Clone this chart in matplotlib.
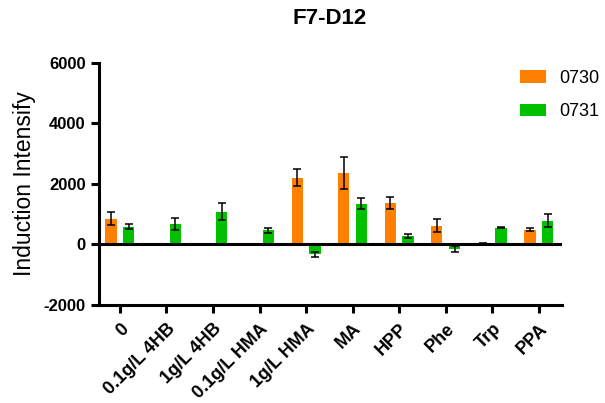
import matplotlib
matplotlib.use("Agg")
import matplotlib.pyplot as plt
import numpy as np
from matplotlib.patches import Patch

plt.rcParams['font.family'] = ['Liberation Sans', 'DejaVu Sans']
plt.rcParams['axes.unicode_minus'] = False

categories = ["0", "0.1g/L 4HB", "1g/L 4HB", "0.1g/L HMA", "1g/L HMA",
              "MA", "HPP", "Phe", "Trp", "PPA"]
series_names = ["0730", "0731"]
vals_0730 = [845, 0, 0, 0, 2205, 2350, 1370, 615, 20, 485]
err_0730 = [215, 0, 0, 0, 275, 530, 210, 210, 30, 55]
vals_0731 = [590, 680, 1075, 460, -330, 1350, 275, -150, 545, 780]
err_0731 = [95, 190, 285, 90, 85, 180, 70, 95, 15, 220]
has_0730 = [True, False, False, False, True, True, True, True, True, True]
colors = ["#FF8000", "#00C000"]
yticks = [-2000, 0, 2000, 4000, 6000]

fig = plt.figure(figsize=(6.05, 4.03), dpi=100)
ax = fig.add_axes([0.1636, 0.2432, 0.929 - 0.1636, 0.8444 - 0.2432])

x = np.arange(len(categories))
w = 0.24
off = 0.19
mask = np.array(has_0730)
xo = x[mask] - off
vo = np.array(vals_0730)[mask]
eo = np.array(err_0730)[mask]
ax.bar(xo, vo, width=w, color=colors[0], zorder=2)
ax.errorbar(xo, vo, yerr=eo, fmt='none', ecolor='black', elinewidth=1.1,
            capsize=3, capthick=1.1, zorder=3)
ax.bar(x + off, vals_0731, width=w, color=colors[1], zorder=2)
ax.errorbar(x + off, vals_0731, yerr=err_0731, fmt='none', ecolor='black',
            elinewidth=1.1, capsize=3, capthick=1.1, zorder=3)

ax.axhline(0, color='black', lw=2.2, zorder=4)

ax.set_xlim(-0.45, 9.5)
ax.set_ylim(-2000, 6000)
ax.set_yticks(yticks)
ax.set_xticks(x)
ax.set_xticklabels(categories, rotation=45, ha='right', rotation_mode='anchor',
                   fontsize=13, fontweight='bold')
for lab in ax.get_yticklabels():
    lab.set_fontweight('bold')
    lab.set_fontsize(12)
ax.tick_params(axis='both', width=2.2, length=6, direction='out')
ax.tick_params(axis='x', pad=5)
for s in ['top', 'right']:
    ax.spines[s].set_visible(False)
for s in ['left', 'bottom']:
    ax.spines[s].set_linewidth(2.2)

ax.set_ylabel("Induction Intensify", fontsize=16.5)
ax.yaxis.set_label_coords(-0.135, 0.5)
fig.text(330 / 605, 1 - 19 / 403, "F7-D12", ha='center', va='center',
         fontsize=16, fontweight='bold')

handles = [Patch(facecolor=colors[0]), Patch(facecolor=colors[1])]
fig.legend(handles, series_names, loc='upper left', bbox_to_anchor=(520 / 605, 1 - 70 / 403),
           frameon=False, fontsize=13, handlelength=1.45, handleheight=0.7,
           labelspacing=0.9, handletextpad=0.75, borderpad=0, borderaxespad=0)

fig.savefig("out.png", dpi=100)
